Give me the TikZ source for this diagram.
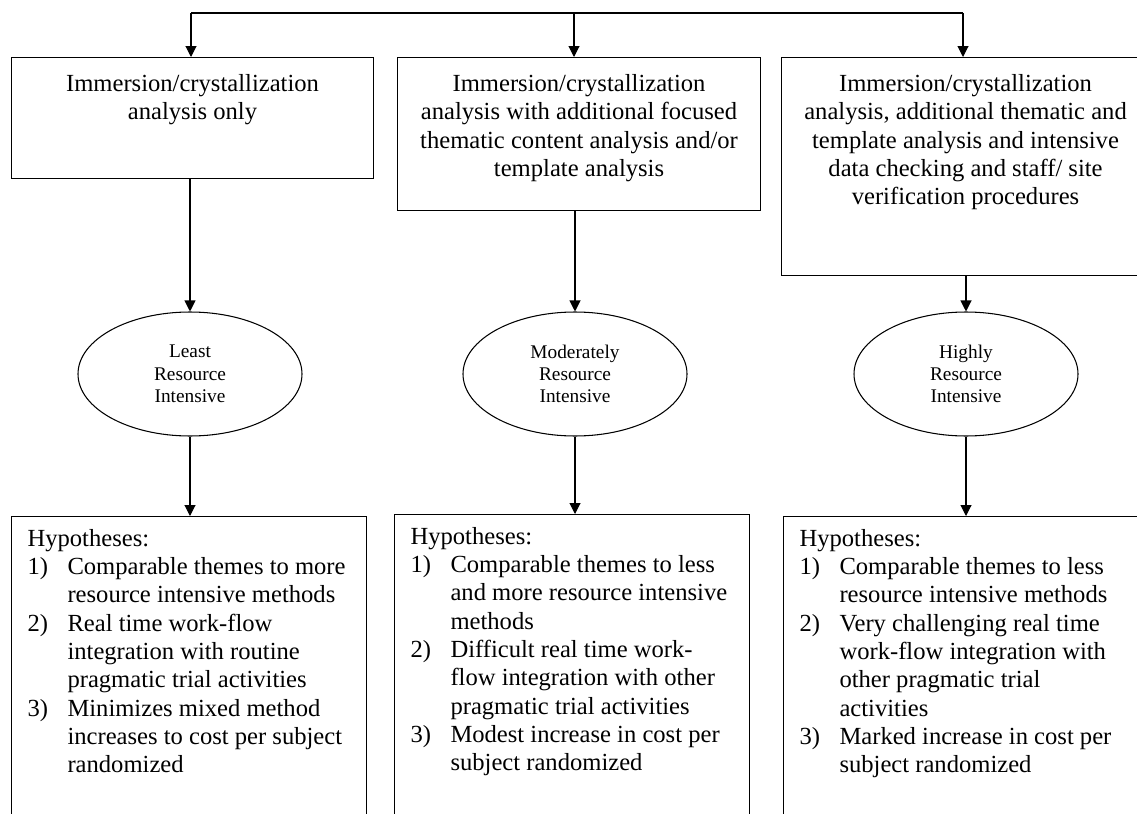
\documentclass[tikz,border=0pt]{standalone}
\usepackage{fontspec}
\setmainfont{Liberation Serif}
\usetikzlibrary{arrows.meta,positioning,shapes.geometric}

\begin{document}
\begin{tikzpicture}[line width=0.6pt,
  arr/.style={-{Triangle[width=0.22cm,length=0.22cm]}},
  stage/.style={draw, rectangle, anchor=north west, inner sep=0pt},
  stagetext/.style={inner sep=0pt, align=center, font=\fontsize{14}{16.1}\selectfont},
  level/.style={draw, ellipse, minimum width=4.48cm, minimum height=2.48cm, inner sep=0pt, align=center, font=\fontsize{11}{12.7}\selectfont},
  hyp/.style={inner sep=0pt, font=\fontsize{14}{16.1}\selectfont}]

\useasboundingbox (0,0) rectangle (22.74,-16.28);
\clip (0,0) rectangle (22.74,-16.28);

% analysis boxes
\node [stage, minimum width=7.24cm, minimum height=2.42cm] (stageA) at (0.22,-1.14) {};
\node [stage, minimum width=7.26cm, minimum height=3.06cm] (stageB) at (7.94,-1.14) {};
\node [stage, minimum width=7.36cm, minimum height=4.36cm] (stageC) at (15.62,-1.14) {};
\node [stagetext, below=0.34cm of stageA.north] (textA) {Immersion/crystallization\\analysis only};
\node [stagetext, below=0.34cm of stageB.north] (textB) {Immersion/crystallization\\analysis with additional focused\\thematic content analysis and/or\\template analysis};
\node [stagetext, below=0.34cm of stageC.north] (textC) {Immersion/crystallization\\analysis, additional thematic and\\template analysis and intensive\\data checking and staff/ site\\verification procedures};

% top bus
\coordinate (busA) at (3.82,-0.26);
\coordinate (busB) at (11.48,-0.26);
\coordinate (busC) at (19.26,-0.26);
\draw (busA) -- (busC);
\draw [arr] (busA) -- (busA |- stageA.north);
\draw [arr] (busB) -- (busB |- stageB.north);
\draw [arr] (busC) -- (busC |- stageC.north);

% resource ellipses
\node [level] (levelA) at (3.8,-7.48) {Least\\Resource\\Intensive};
\node [level] (levelB) at (11.5,-7.48) {Moderately\\Resource\\Intensive};
\node [level] (levelC) at (19.32,-7.48) {Highly\\Resource\\Intensive};
\draw [arr] (levelA.north |- stageA.south) -- (levelA.north);
\draw [arr] (levelB.north |- stageB.south) -- (levelB.north);
\draw [arr] (levelC.north |- stageC.south) -- (levelC.north);

% hypotheses boxes
\node [stage, minimum width=7.1cm, minimum height=6.4cm] (hypA) at (0.22,-10.32) {};
\node [stage, minimum width=7.1cm, minimum height=6.4cm] (hypB) at (7.88,-10.28) {};
\node [stage, minimum width=7.1cm, minimum height=6.4cm] (hypC) at (15.66,-10.32) {};
\draw [arr] (levelA.south) -- (levelA.south |- hypA.north);
\draw [arr] (levelB.south) -- (levelB.south |- hypB.north);
\draw [arr] (levelC.south) -- (levelC.south |- hypC.north);

\node [hyp, below right=0.2cm and 0.32cm of hypA.north west] (listA) {\begin{tabular}{@{}p{0.8cm}@{}l@{}}
\multicolumn{2}{@{}l@{}}{Hypotheses:}\\
1) & Comparable themes to more\\
 & resource intensive methods\\
2) & Real time work-flow\\
 & integration with routine\\
 & pragmatic trial activities\\
3) & Minimizes mixed method\\
 & increases to cost per subject\\
 & randomized
\end{tabular}};
\node [hyp, below right=0.2cm and 0.32cm of hypB.north west] (listB) {\begin{tabular}{@{}p{0.8cm}@{}l@{}}
\multicolumn{2}{@{}l@{}}{Hypotheses:}\\
1) & Comparable themes to less\\
 & and more resource intensive\\
 & methods\\
2) & Difficult real time work-\\
 & flow integration with other\\
 & pragmatic trial activities\\
3) & Modest increase in cost per\\
 & subject randomized
\end{tabular}};
\node [hyp, below right=0.2cm and 0.32cm of hypC.north west] (listC) {\begin{tabular}{@{}p{0.8cm}@{}l@{}}
\multicolumn{2}{@{}l@{}}{Hypotheses:}\\
1) & Comparable themes to less\\
 & resource intensive methods\\
2) & Very challenging real time\\
 & work-flow integration with\\
 & other pragmatic trial\\
 & activities\\
3) & Marked increase in cost per\\
 & subject randomized
\end{tabular}};
\end{tikzpicture}
\end{document}
